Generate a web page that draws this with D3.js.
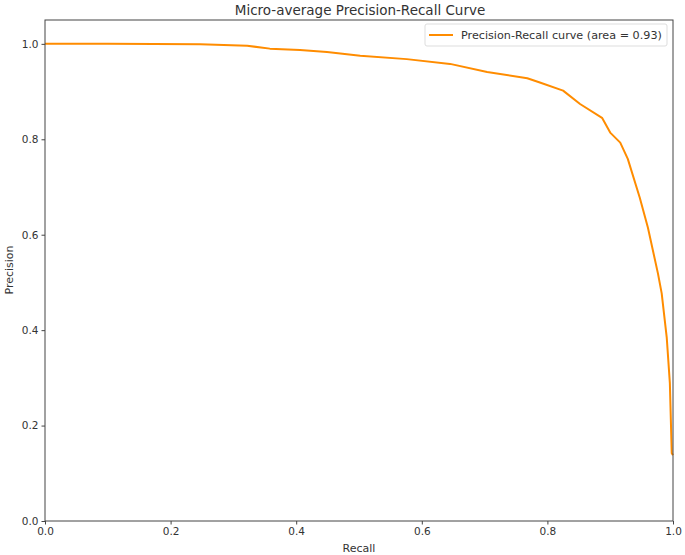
<!DOCTYPE html>
<html>
<head>
<meta charset="utf-8">
<script src="https://cdn.jsdelivr.net/npm/d3@7"></script>
<style>
  body { margin: 0; background: #fff; }
  text { font-family: "DejaVu Sans", sans-serif; fill: #333; }
</style>
</head>
<body>
<script>
// values
const recall = [0, 0.10, 0.247, 0.322, 0.358, 0.406, 0.449, 0.502, 0.576, 0.645, 0.704, 0.768, 0.788, 0.825, 0.852, 0.887, 0.900, 0.916, 0.928, 0.947, 0.960, 0.976, 0.982, 0.990, 0.995, 0.998, 1.0];
const precision = [1.0, 1.0, 0.999, 0.996, 0.990, 0.987, 0.983, 0.975, 0.968, 0.958, 0.941, 0.928, 0.919, 0.902, 0.874, 0.845, 0.814, 0.793, 0.759, 0.678, 0.615, 0.519, 0.477, 0.385, 0.289, 0.142, 0.138];
const ticks = [0, 0.2, 0.4, 0.6, 0.8, 1.0];
const title = "Micro-average Precision-Recall Curve";
const legendLabel = "Precision-Recall curve (area = 0.93)";

const width = 685;
const height = 555;
const margin = {top: 20, right: 12, bottom: 34, left: 45};

const svg = d3.select("body")
    .append("svg")
    .attr("width", width)
    .attr("height", height);

const x = d3.scaleLinear().domain([0, 1]).range([margin.left, width - margin.right]);
const y = d3.scaleLinear().domain([0, 1.05]).range([height - margin.bottom, margin.top]);

// axes
svg.append("g")
    .attr("transform", `translate(0,${height - margin.bottom})`)
    .call(d3.axisBottom(x).tickValues(ticks).tickFormat(d3.format(".1f")).tickSize(3.5).tickPadding(3))
    .call(g => g.select(".domain").remove())
    .call(g => g.selectAll("text").attr("font-size", 10.5).attr("fill", "#333"))
    .call(g => g.selectAll("line").attr("stroke", "#444"));

svg.append("g")
    .attr("transform", `translate(${margin.left},0)`)
    .call(d3.axisLeft(y).tickValues(ticks).tickFormat(d3.format(".1f")).tickSize(3.5).tickPadding(3))
    .call(g => g.select(".domain").remove())
    .call(g => g.selectAll("text").attr("font-size", 10.5).attr("fill", "#333"))
    .call(g => g.selectAll("line").attr("stroke", "#444"));

// curve
const line = d3.line()
    .x((d, i) => x(recall[i]))
    .y(d => y(d));

svg.append("path")
    .datum(precision)
    .attr("fill", "none")
    .attr("stroke", "darkorange")
    .attr("stroke-width", 2)
    .attr("stroke-linejoin", "round")
    .attr("d", line);

// frame
svg.append("rect")
    .attr("x", margin.left)
    .attr("y", margin.top)
    .attr("width", width - margin.left - margin.right)
    .attr("height", height - margin.top - margin.bottom)
    .attr("fill", "none")
    .attr("stroke", "#444")
    .attr("stroke-width", 1);

// title and labels
svg.append("text")
    .attr("x", 360)
    .attr("y", 15)
    .attr("text-anchor", "middle")
    .attr("font-size", 13.5)
    .text(title);

svg.append("text")
    .attr("x", 359)
    .attr("y", 552)
    .attr("text-anchor", "middle")
    .attr("font-size", 11)
    .text("Recall");

svg.append("text")
    .attr("transform", `translate(13,270) rotate(-90)`)
    .attr("text-anchor", "middle")
    .attr("font-size", 11)
    .text("Precision");

// legend
const legend = svg.append("g").attr("transform", "translate(425,24)");
legend.append("rect")
    .attr("width", 242)
    .attr("height", 22)
    .attr("rx", 2)
    .attr("fill", "#fff")
    .attr("fill-opacity", 0.8)
    .attr("stroke", "#ddd");
legend.append("line")
    .attr("x1", 4).attr("x2", 28)
    .attr("y1", 11).attr("y2", 11)
    .attr("stroke", "darkorange")
    .attr("stroke-width", 2);
legend.append("text")
    .attr("x", 36)
    .attr("y", 15)
    .attr("font-size", 11.2)
    .text(legendLabel);
</script>
</body>
</html>
